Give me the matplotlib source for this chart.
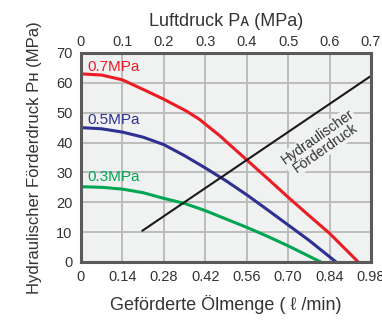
import matplotlib.pyplot as plt

plt.rcParams['font.family'] = ['Liberation Sans', 'DejaVu Sans']

# flow rate (l/min) vs hydraulic pressure (MPa)
red_x = [0, 0.07, 0.14, 0.21, 0.28, 0.357, 0.40, 0.47, 0.5035, 0.56, 0.63, 0.70, 0.77, 0.84, 0.937]
red_y = [63, 62.6, 61.0, 57.8, 54.5, 50.5, 47.8, 42.2, 39.2, 34.2, 28, 21.7, 15.6, 9.6, 0]
blue_x = [0, 0.07, 0.14, 0.21, 0.28, 0.35, 0.42, 0.49, 0.56, 0.63, 0.70, 0.77, 0.862]
blue_y = [45, 44.6, 43.5, 41.8, 39.3, 35.6, 31.5, 27.2, 22.5, 17.5, 12.4, 7.3, 0]
green_x = [0, 0.07, 0.14, 0.21, 0.28, 0.35, 0.42, 0.50, 0.56, 0.63, 0.70, 0.81]
green_y = [25.2, 25.0, 24.4, 23.2, 21.3, 19.6, 17.2, 14.0, 11.6, 8.6, 5.4, 0]
line_x = [0.208, 0.98]
line_y = [10.5, 62.3]

curve_labels = ['0.7MPa', '0.5MPa', '0.3MPa']
x_ticks = [0, 0.14, 0.28, 0.42, 0.56, 0.70, 0.84, 0.98]
x_ticklabels = ['0', '0.14', '0.28', '0.42', '0.56', '0.70', '0.84', '0.98']
top_ticklabels = ['0', '0.1', '0.2', '0.3', '0.4', '0.5', '0.6', '0.7']
y_ticks = [0, 10, 20, 30, 40, 50, 60, 70]

red = '#ed1c24'
blue = '#2e3192'
green = '#00a651'
txt = '#333333'
bg = '#f0f1f1'

fig = plt.figure(figsize=(3.82, 3.23), dpi=100)
ax = fig.add_axes([0.212, 0.189, 0.759, 0.647])
ax.set_facecolor(bg)

ax.plot(red_x, red_y, color=red, lw=2.2, zorder=3)
ax.plot(blue_x, blue_y, color=blue, lw=2.2, zorder=3)
ax.plot(green_x, green_y, color=green, lw=2.2, zorder=3)
ax.plot(line_x, line_y, color='#1a1a1a', lw=1.5, zorder=3)

ax.text(0.02, 65.3, curve_labels[0], color=red, fontsize=11, va='center')
ax.text(0.02, 47.6, curve_labels[1], color=blue, fontsize=11, va='center')
ax.text(0.02, 28.6, curve_labels[2], color=green, fontsize=11, va='center')

ax.text(0.813, 39.9, 'Hydraulischer\nFörderdruck', rotation=35, color=txt,
        fontsize=10, ha='center', va='center', linespacing=1.0,
        bbox=dict(facecolor=bg, edgecolor='none', pad=0.5), zorder=4)

ax.set_xlim(0, 0.98)
ax.set_ylim(0, 70)
ax.set_xticks(x_ticks)
ax.set_xticklabels(x_ticklabels)
ax.set_yticks(y_ticks)
ax.grid(True, color='#bcbcbc', lw=1.4, zorder=1)
ax.tick_params(length=0, labelsize=10.5, colors=txt, pad=6)
for s in ax.spines.values():
    s.set_color('#5a5a5a')
    s.set_linewidth(2.2)
    s.set_zorder(5)

ax.set_xlabel('Geförderte Ölmenge ( ℓ /min)', fontsize=13, color=txt, labelpad=8)
ax.set_ylabel('Hydraulischer Förderdruck Pʜ (MPa)', fontsize=12, color=txt, labelpad=10)

top = ax.twiny()
top.set_xlim(0, 0.98)
top.set_xticks(x_ticks)
top.set_xticklabels(top_ticklabels)
top.tick_params(length=0, labelsize=10.5, colors=txt, pad=3)
for s in top.spines.values():
    s.set_visible(False)
top.set_xlabel('Luftdruck Pᴀ (MPa)', fontsize=13, color=txt, labelpad=6)

plt.savefig('out.png', dpi=100, facecolor='w')
plt.close()
